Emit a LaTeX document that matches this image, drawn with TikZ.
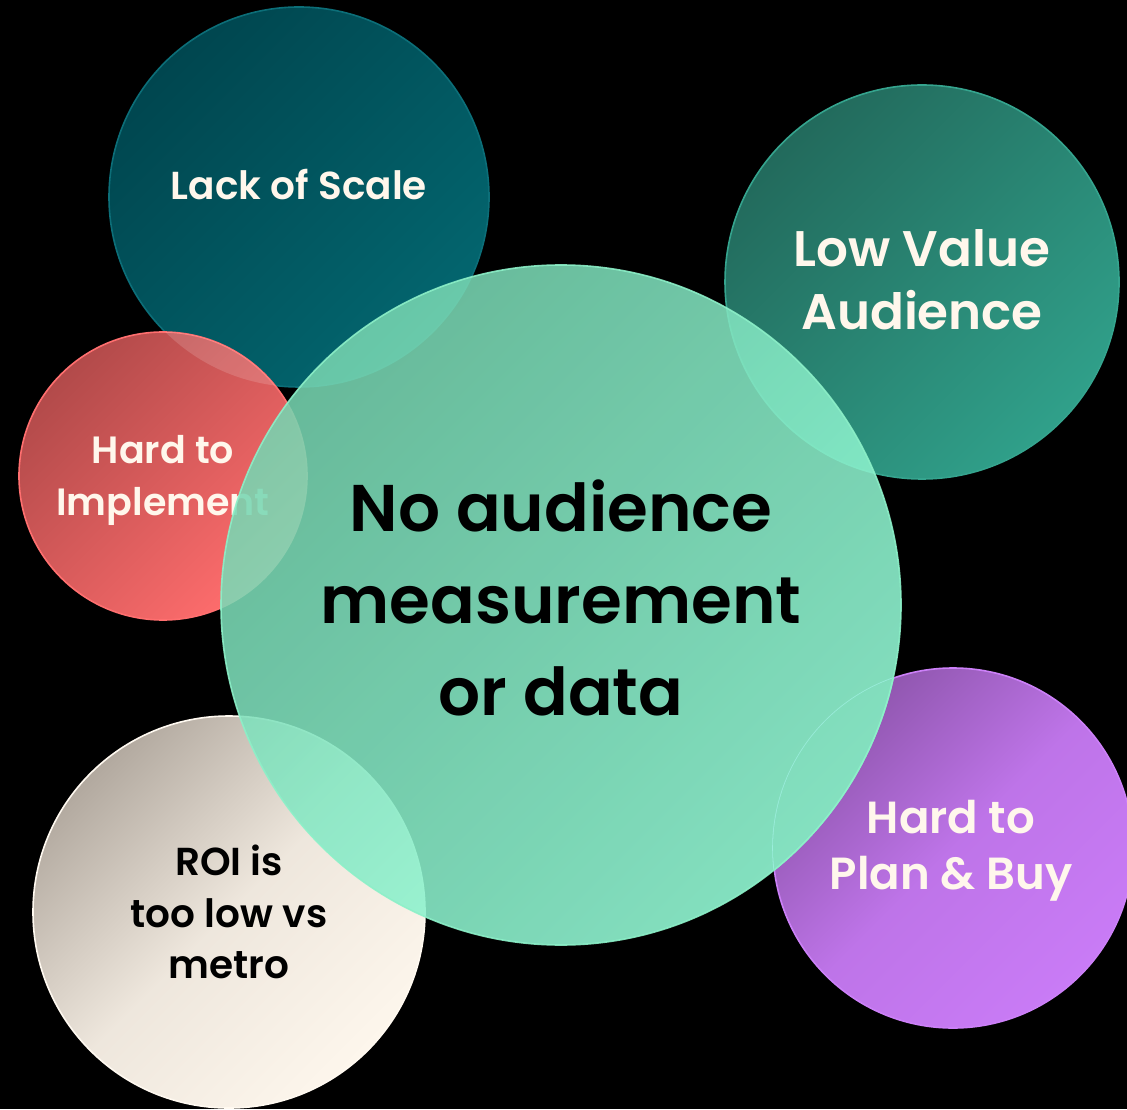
\documentclass[tikz,border=0pt]{standalone}
\usepackage{fontspec}
\setmainfont{Poppins}
\newfontfamily\bubblefont{Poppins}[UprightFont=* SemiBold]
\usepackage{tikz}
\definecolor{cream}{HTML}{FFF7EC}
\definecolor{scaleA}{HTML}{00464F}
\definecolor{scaleB}{HTML}{03666F}
\definecolor{scaleEdge}{HTML}{0C6E78}
\definecolor{lowA}{HTML}{226A5C}
\definecolor{lowB}{HTML}{30A08A}
\definecolor{lowEdge}{HTML}{35A48E}
\definecolor{implA}{HTML}{B24A4A}
\definecolor{implB}{HTML}{FF6D6D}
\definecolor{implEdge}{HTML}{FF6F6F}
\definecolor{planA}{HTML}{8C54AA}
\definecolor{planB}{HTML}{C97BF6}
\definecolor{planEdge}{HTML}{CC80F8}
\definecolor{roiA}{HTML}{B2A99F}
\definecolor{roiB}{HTML}{FDF6EC}
\definecolor{roiEdge}{HTML}{FFF9F0}
\definecolor{mintA}{RGB}{118,212,176}
\definecolor{mintB}{RGB}{150,255,218}
\definecolor{mintEdge}{RGB}{140,240,200}
\tikzset{
  bubble/.style n args={4}{circle, inner sep=0pt, line width=0.8pt, minimum size=#1,
    top color=#2, bottom color=#3, shading angle=45, draw=#4},
  lbl/.style={align=center, text=cream, inner sep=0pt},
}

\begin{document}
\begin{tikzpicture}[x=0.5pt,y=0.5pt]
  \fill[black] (0,0) rectangle (1127,1109);
  \useasboundingbox (0,0) rectangle (1127,1109);
  \clip (0,0) rectangle (1127,1109);
  \node[bubble={190pt}{scaleA}{scaleB}{scaleEdge}] (scale) at (299,912) {};
  \node[bubble={197pt}{lowA}{lowB}{lowEdge}] (low) at (922,827) {};
  \node[bubble={144pt}{implA}{implB}{implEdge}] (impl) at (163,633) {};
  \node[bubble={180pt}{planA}{planB}{planEdge}, middle color=planB!82!planA] (plan) at (953,261) {};
  \node[bubble={196pt}{roiA}{roiB}{roiEdge}, middle color=roiB!80!roiA] (roi) at (229,197) {};
  \begin{scope}
    \clip (scale) circle (95pt);
    \fill[white,opacity=0.15] (impl) circle (72pt);
  \end{scope}
  \node[lbl, font=\bubblefont\fontsize{19.5pt}{24pt}\selectfont] (scaleText) at (299,925) {Lack of Scale};
  \node[lbl, font=\bubblefont\fontsize{25pt}{31.5pt}\selectfont] (lowText) at (922,829) {Low Value\\Audience};
  \node[lbl, font=\bubblefont\fontsize{19pt}{26pt}\selectfont] (implText) at (163,629) {Hard to\\Implement};
  \node[lbl, font=\bubblefont\fontsize{22.5pt}{28pt}\selectfont] (planText) at (951,258) {Hard to\\Plan \& Buy};
  \node[lbl, text=black, font=\bubblefont\fontsize{19.5pt}{25.75pt}\selectfont] (roiText) at (229,197) {ROI is\\too low vs\\metro};
  \node[bubble={340pt}{mintA}{mintB}{mintEdge}, fill opacity=0.88, draw opacity=0.9] (core) at (561,504) {};
  \begin{scope}
    \clip (plan) circle (90pt);
    \shade[top color=mintA!88!black, bottom color=mintB!88!black, shading angle=45] (core) circle (170pt);
    \draw[mintEdge, line width=0.8pt] (core) circle (170pt);
  \end{scope}
  \node[lbl, text=black, font=\bubblefont\fontsize{33pt}{46pt}\selectfont] (coreText) at (561,511) {No audience\\measurement\\or data};
\end{tikzpicture}
\end{document}
